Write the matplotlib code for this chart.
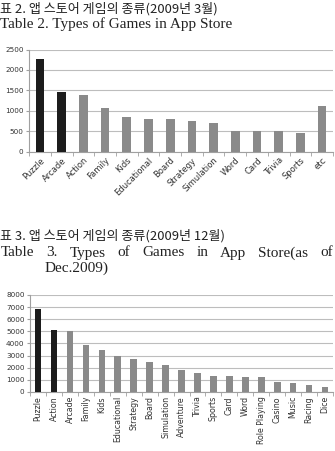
import matplotlib.pyplot as plt
import numpy as np

cats_mar = ['Puzzle', 'Arcade', 'Action', 'Family', 'Kids', 'Educational', 'Board',
            'Strategy', 'Simulation', 'Word', 'Card', 'Trivia', 'Sports', 'etc']
vals_mar = [2275, 1455, 1390, 1075, 845, 800, 795, 755, 712, 505, 505, 505, 460, 1105]

cats_dec = ['Puzzle', 'Action', 'Arcade', 'Family', 'Kids', 'Educational', 'Strategy',
            'Board', 'Simulation', 'Adventure', 'Trivia', 'Sports', 'Card', 'Word',
            'Role Playing', 'Casino', 'Music', 'Racing', 'Dice']
vals_dec = [6820, 5130, 5040, 3840, 3480, 2940, 2740, 2440, 2190, 1770, 1530, 1340,
            1290, 1260, 1200, 820, 770, 570, 440]

DARK = '#1c1c1c'
GRAY = '#8a8a8a'
KR = ['Noto Sans CJK KR', 'DejaVu Sans']
EN = ['Liberation Serif', 'DejaVu Serif']

fig = plt.figure(figsize=(3.35, 4.51), dpi=100)


def excel_bars(ax, cats, vals, ymax, step, width, rot):
    x = np.arange(len(cats))
    colors = [DARK, DARK] + [GRAY] * (len(cats) - 2)
    ax.bar(x, vals, width=width, color=colors, zorder=3)
    ax.set_xlim(-0.5, len(cats) - 0.5)
    ax.set_ylim(0, ymax)
    ax.set_yticks(np.arange(0, ymax + 1, step))
    ax.yaxis.grid(True, color='#bdbdbd', linewidth=0.8, zorder=0)
    for s in ['top', 'right']:
        ax.spines[s].set_visible(False)
    ax.spines['left'].set_color('#a0a0a0')
    ax.spines['bottom'].set_color('#a0a0a0')
    ax.tick_params(axis='y', labelsize=5.2, length=2, color='#a0a0a0', pad=2, labelcolor='#333333')
    # ticks between categories
    ax.set_xticks(np.arange(-0.5, len(cats), 1.0), minor=True)
    ax.tick_params(axis='x', which='minor', length=3, color='#a0a0a0')
    ax.set_xticks(x)
    if rot == 45:
        ax.set_xticklabels(cats, rotation=45, ha='right', rotation_mode='anchor',
                           fontsize=6, color='#333333')
    else:
        ax.set_xticklabels(cats, rotation=90, fontsize=5.7, color='#333333')
    ax.tick_params(axis='x', which='major', length=0, pad=3)


ax1 = fig.add_axes([0.087, 0.664, 0.907, 0.226])
excel_bars(ax1, cats_mar, vals_mar, 2500, 500, 0.4, 45)

ax2 = fig.add_axes([0.09, 0.131, 0.904, 0.215])
excel_bars(ax2, cats_dec, vals_dec, 8000, 1000, 0.42, 90)

fig.text(0.0, 1 - 9 / 451, '표 2. 앱 스토어 게임의 종류(2009년 3월)', family=KR,
         fontsize=9.4, va='center', ha='left', color='#222222')
fig.text(0.0, 1 - 24 / 451, 'Table 2. Types of Games in App Store', family=EN,
         fontsize=11, va='center', ha='left', color='#222222')

fig.text(0.0, 1 - 236 / 451, '표 3. 앱 스토어 게임의 종류(2009년 12월)', family=KR,
         fontsize=9.4, va='center', ha='left', color='#222222')

# justified caption line
words = ['Table', '3.', 'Types', 'of', 'Games', 'in', 'App', 'Store(as', 'of']
renderer = fig.canvas.get_renderer()
texts = [fig.text(0, 1 - 253 / 451, w, family=EN, fontsize=11, va='center',
                  ha='left', color='#222222') for w in words]
widths = [t.get_window_extent(renderer).width for t in texts]
left, right = 1.0, 333.0
gap = (right - left - sum(widths)) / (len(words) - 1)
xp = left
for t, w in zip(texts, widths):
    t.set_x(xp / 335)
    xp += w + gap

fig.text(45 / 335, 1 - 268 / 451, 'Dec.2009)', family=EN, fontsize=11,
         va='center', ha='left', color='#222222')

fig.savefig('out.png', dpi=100)
